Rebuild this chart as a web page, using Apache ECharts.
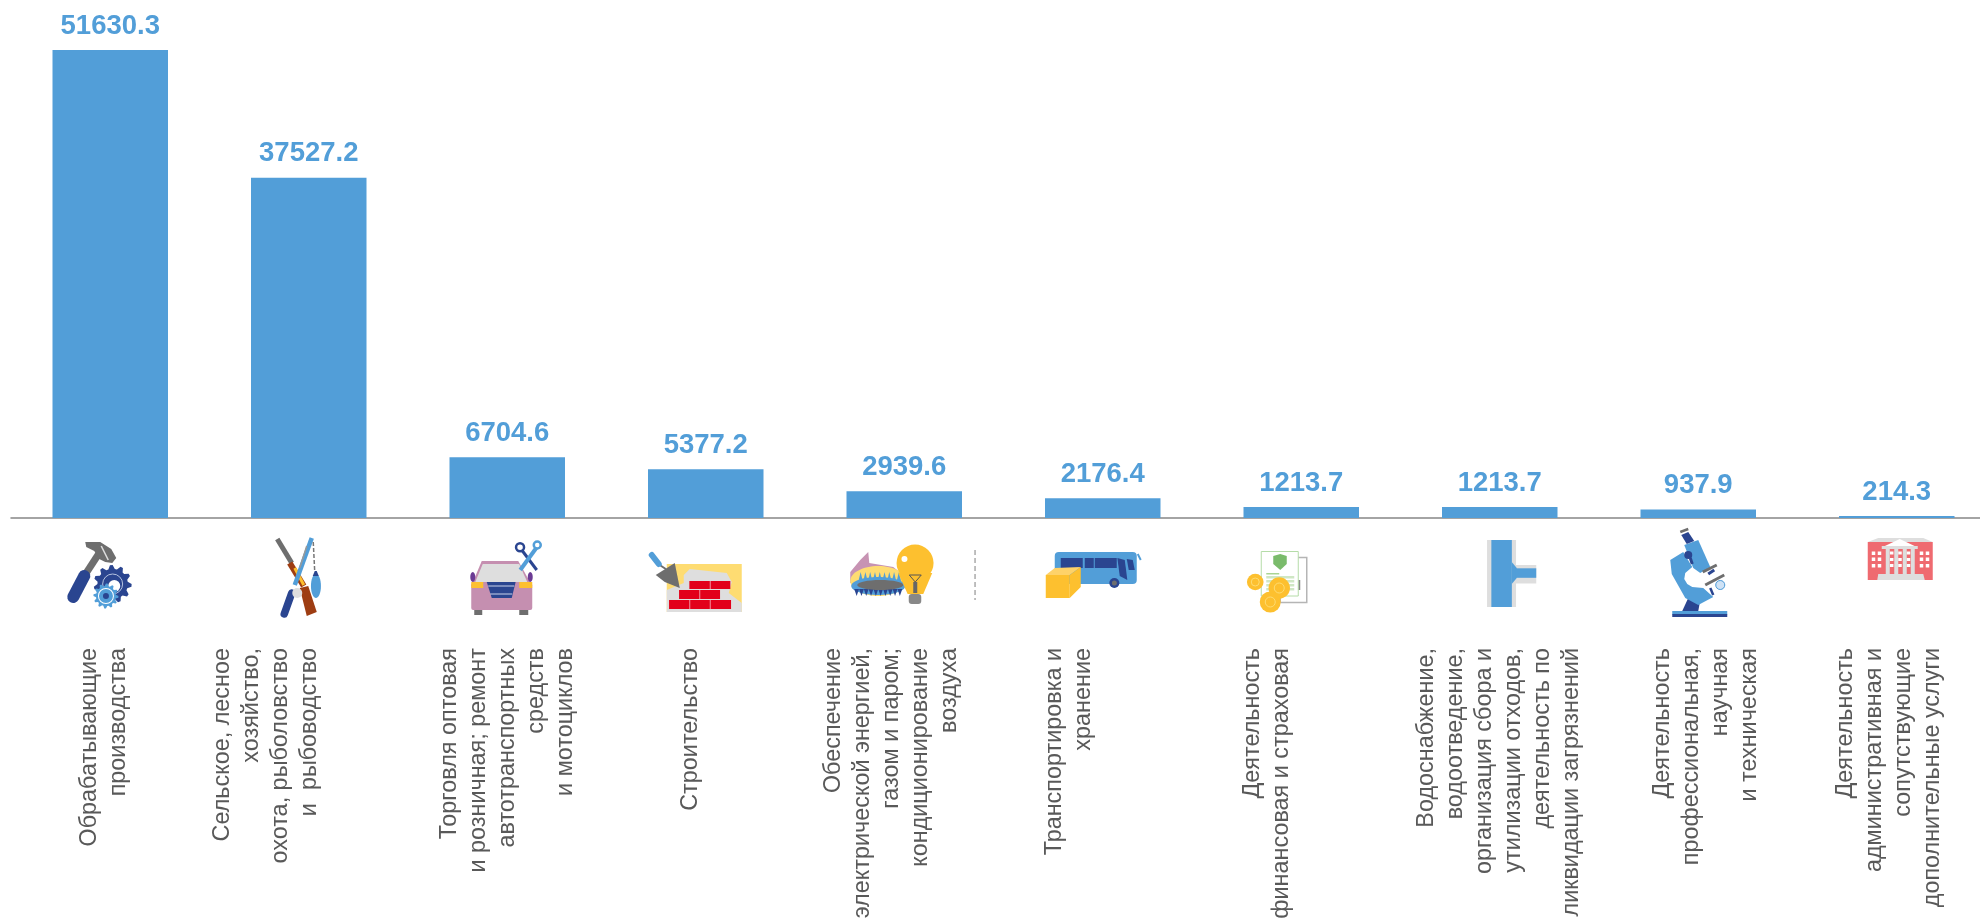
<!DOCTYPE html>
<html lang="ru">

<head>
    <meta charset="UTF-8">
    <title>Отрасли</title>
    <style>
        * {
            padding: 0;
            margin: 0;
        }
        html, body {
            overflow: hidden;
            background: #fff;
        }
    </style>
    <script src="https://cdn.jsdelivr.net/npm/echarts@6/dist/echarts.min.js"></script>
</head>

<body>
    <div id="main" style="width:1980px;height:919px;"></div>
    <script>
        // данные
        var categories = [
            "Обрабатывающие\nпроизводства",
            "Сельское, лесное\nхозяйство,\nохота, рыболовство\nи  рыбоводство",
            "Торговля оптовая\nи розничная; ремонт\nавтотранспортных\nсредств\nи мотоциклов",
            "Строительство",
            "Обеспечение\nэлектрической энергией,\nгазом и паром;\nкондиционирование\nвоздуха",
            "Транспортировка и\nхранение",
            "Деятельность\nфинансовая и страховая",
            "Водоснабжение,\nводоотведение,\nорганизация сбора и\nутилизации отходов,\nдеятельность по\nликвидации загрязнений",
            "Деятельность\nпрофессиональная,\nнаучная\nи техническая",
            "Деятельность\nадминистративная и\nсопутствующие\nдополнительные услуги"
        ];
        var values = [51630.3, 37527.2, 6704.6, 5377.2, 2939.6, 2176.4, 1213.7, 1213.7, 937.9, 214.3];

        // смещение блока подписи от центра столбца, px
        var labelShift = [-6, -43, 0, -15, -13, -34, -34, -1, 8, -8];

        var BLUE = "#529ed8", NAVY = "#2a4590", GRAY = "#6e6e6e", LIGHT = "#dedede", YELLOW = "#fdc02f",
            RED = "#e2001a", BRICK = "#ef6a70", WHITE = "#fff";

        // простые фигуры для значков
        function R(x, y, w, h, fill, r) {
            return { type: "rect", shape: { x: x, y: y, width: w, height: h, r: r || 0 }, style: { fill: fill } };
        }
        function C(cx, cy, r, fill) {
            return { type: "circle", shape: { cx: cx, cy: cy, r: r }, style: { fill: fill } };
        }
        function E(cx, cy, rx, ry, fill) {
            return { type: "ellipse", shape: { cx: cx, cy: cy, rx: rx, ry: ry }, style: { fill: fill } };
        }
        function P(points, fill) {
            return { type: "polygon", shape: { points: points }, style: { fill: fill } };
        }
        function L(x1, y1, x2, y2, w, color, cap, dash) {
            return {
                type: "line",
                shape: { x1: x1, y1: y1, x2: x2, y2: y2 },
                style: { stroke: color, lineWidth: w, lineCap: cap || "butt", lineDash: dash || null }
            };
        }
        function ring(cx, cy, r, w, color) {
            return { type: "circle", shape: { cx: cx, cy: cy, r: r }, style: { fill: "none", stroke: color, lineWidth: w } };
        }
        function gear(cx, cy, r, teeth, fill) {
            var pts = [];
            for (var i = 0; i < teeth * 4; i++) {
                var a = i / (teeth * 4) * Math.PI * 2;
                var rr = (i % 4 < 2) ? r : r * 0.8;
                pts.push([cx + rr * Math.cos(a), cy + rr * Math.sin(a)]);
            }
            return P(pts, fill);
        }
        // ряд язычков пламени у конфорки
        function flames(x0, x1, y, h, n, fill) {
            var out = [];
            var w = (x1 - x0) / n;
            for (var i = 0; i < n; i++) {
                out.push(P([[x0 + i * w, y], [x0 + (i + 0.5) * w, y + h], [x0 + (i + 1) * w, y]], fill));
            }
            return out;
        }

        // значки: координаты от центра столбца и оси
        var icons = [
            function () {
                return [
                    L(-26, 58, -11, 35, 7, GRAY),
                    P([[-25, 24], [-10, 24], [1, 31], [6, 40], [2, 45], [-5, 44], [-11, 41], [-16, 33], [-24, 29]], GRAY),
                    L(-9, 28, -2, 42, 1.5, LIGHT),
                    L(-37, 79, -26, 58, 12, NAVY, "round"),
                    gear(2.4, 66, 19, 11, NAVY),
                    ring(2.4, 66, 10, 1, "#b5c3e0"),
                    C(4, 68, 6, WHITE),
                    gear(-4.3, 78, 12.5, 12, BLUE),
                    C(-4.3, 78, 8, WHITE),
                    C(-4.3, 78, 7, BLUE),
                    C(-4.3, 78, 3, NAVY)
                ];
            },
            function () {
                return [
                    L(-31.5, 21, -17, 45, 5, GRAY),
                    L(-19, 45, -5, 68, 6, "#9e3d12"),
                    P([[-9, 70], [-0.5, 68], [8, 94], [-2, 98]], "#9e3d12"),
                    L(-14, 50, -5, 67, 3, YELLOW),
                    L(3, 20, -14, 67, 4.5, BLUE),
                    L(-2, 28, -9, 50, 1.5, "#999"),
                    L(4.5, 24, 6, 54, 1.5, "#777", "butt", [4, 2]),
                    L(-17, 75, -24.5, 96, 7.5, NAVY, "round"),
                    E(7.2, 68, 5, 12, BLUE),
                    P([[4, 58], [6, 53], [8, 53], [10, 58]], NAVY),
                    C(-11.5, 75, 5, LIGHT)
                ];
            },
            function () {
                return [
                    P([[-25.5, 43], [11, 43], [25, 68], [-36, 68]], "#c58fb0"),
                    R(-36, 65, 61, 27, "#c58fb0", 2),
                    P([[-32, 64], [-24.5, 46], [12, 46], [20, 64]], LIGHT),
                    R(-36, 64, 12, 6, YELLOW),
                    R(12, 64, 13, 6, YELLOW),
                    P([[-20.5, 64], [8.4, 64], [4.5, 80], [-15.5, 80]], NAVY),
                    L(-19, 68, 7, 68, 1, "#c9d3ea"),
                    L(-17, 76, 5, 76, 1, "#c9d3ea"),
                    R(-33, 92, 8, 5, GRAY),
                    R(12, 92, 9, 5, GRAY),
                    E(-34.5, 59, 2.5, 5, "#6b3a94"),
                    E(23, 59, 2.5, 5, "#6b3a94"),
                    L(14.5, 32, 29.5, 52, 3, NAVY),
                    ring(12.8, 29.3, 4, 2.5, NAVY),
                    L(29, 30, 13, 52, 4, BLUE),
                    ring(30, 27, 3.5, 2.5, BLUE)
                ];
            },
            function () {
                return [
                    R(-39, 46, 75, 48, "#fedc72"),
                    P([[-22, 57], [-16, 51], [21, 55], [26, 64], [23, 75], [36, 85], [36, 94], [-39, 94], [-39, 72], [-22, 65]], LIGHT),
                    R(-16.4, 63, 41, 8, RED),
                    R(-26.7, 72, 41, 9, RED),
                    R(-36.7, 82, 62, 9, RED),
                    R(4, 63, 1, 8, "#f2919c"),
                    R(-6.5, 72, 1, 9, "#f2919c"),
                    R(-16.5, 82, 1, 9, "#f2919c"),
                    R(4, 82, 1, 9, "#f2919c"),
                    P([[-50, 57], [-31, 45], [-26, 70], [-41, 64]], GRAY),
                    L(-46, 47, -40, 51, 2, GRAY),
                    L(-54, 37, -47, 46, 6, BLUE, "round")
                ];
            },
            function () {
                return [
                    P([[-54, 65], [-54, 54], [-44, 42], [-36, 34], [-35, 45], [-11, 49], [-1, 57], [-1, 67]], "#c793b3"),
                    E(-26, 63, 28, 15, "#fedc72"),
                    E(-26, 68, 27, 9, BLUE)
                ].concat(flames(-46, -3, 64, -10, 9, BLUE), flames(-50, -2, 71, 7, 10, NAVY), [
                    E(-24, 67, 23, 5, GRAY),
                    C(10.8, 45, 18.5, YELLOW),
                    P([[-6, 55], [28, 55], [19, 76], [3.4, 76]], YELLOW),
                    C(0.2, 41, 3, WHITE),
                    L(5, 57, 11, 64, 1, "#555"),
                    L(17, 57, 11, 64, 1, "#555"),
                    L(5, 57, 17, 57, 1, "#555"),
                    R(9, 64, 4, 11, "#666"),
                    R(4.5, 76, 12.5, 10, "#888", 3),
                    L(70.8, 32, 70.8, 82, 1.5, "#aaa", "butt", [5, 3])
                ]);
            },
            function () {
                return [
                    R(-48, 34, 82, 32, BLUE, 4),
                    L(35, 36, 38, 42, 2, BLUE),
                    R(-42, 40, 22, 10, NAVY),
                    R(-18, 40, 9, 10, NAVY),
                    R(-8, 40, 22, 10, NAVY),
                    P([[14.6, 40], [22, 42], [24.6, 62], [17, 58]], NAVY),
                    P([[24, 41], [30, 42], [32, 52], [26, 52]], NAVY),
                    C(11.6, 65, 5, NAVY),
                    C(11.6, 65, 2.5, GRAY),
                    P([[-57, 57], [-48, 50], [-22, 49], [-33, 57]], "#fed269"),
                    R(-57, 57, 24, 23, YELLOW),
                    P([[-33, 57], [-22, 49], [-22, 69], [-33, 80]], YELLOW)
                ];
            },
            function () {
                return [
                    { type: "rect", shape: { x: -21, y: 39.5, width: 26.5, height: 45 }, style: { fill: WHITE, stroke: "#b5b5b5", lineWidth: 1.5 } },
                    R(-4, 62, 3, 10, "#888"),
                    { type: "rect", shape: { x: -40, y: 33.5, width: 37, height: 44.5 }, style: { fill: WHITE, stroke: "#b5dca8", lineWidth: 1 } },
                    P([[-28, 38], [-21, 36], [-14.5, 38], [-14.5, 46], [-21, 52], [-28, 46]], "#7abb6b"),
                    R(-35, 55, 13, 1.5, "#a9d493"),
                    R(-35, 58, 28, 2.5, "#cfe7c4"),
                    R(-35, 62, 28, 2.5, "#cfe7c4"),
                    R(-35, 66, 28, 2.5, "#cfe7c4"),
                    R(-35, 70, 28, 2.5, "#cfe7c4"),
                    C(-46, 64, 8.3, YELLOW),
                    ring(-46, 64, 4, 1, "#fedc72"),
                    C(-22, 70, 10.7, YELLOW),
                    ring(-22, 70, 5, 1, "#fedc72"),
                    C(-31, 84, 10.5, YELLOW),
                    ring(-31, 84, 5, 1, "#fedc72")
                ];
            },
            function () {
                return [
                    R(-12.7, 22, 29, 67, LIGHT),
                    R(16, 47, 20.5, 18.5, LIGHT),
                    R(-8.4, 22, 20.5, 67, BLUE),
                    P([[12, 44], [17, 50], [17, 60], [12, 66]], BLUE),
                    R(16, 50.3, 20.5, 9.5, BLUE)
                ];
            },
            function () {
                return [
                    R(-26, 93, 55, 3.5, BLUE),
                    R(-26, 96, 55, 3, NAVY),
                    P([[-16, 93], [-10, 80], [2, 82], [0, 93]], NAVY),
                    P([[-28, 42], [-15, 34], [-6, 49], [-13, 55], [-14, 61], [-11, 66], [-6, 69], [5, 70], [15, 79], [0, 87], [-13, 80], [-26.5, 56]], BLUE),
                    P([[-14, 27], [0, 22], [12, 49], [2, 55], [-5, 50]], BLUE),
                    P([[-17, 17], [-10, 14], [-4, 23], [-11.5, 26]], NAVY),
                    L(-18, 14, -10, 11, 2.5, GRAY),
                    C(-10, 37, 4, NAVY),
                    L(-8, 40, -6, 46, 3, NAVY),
                    L(4.5, 54, 18.5, 47, 3, GRAY),
                    L(7, 67, 26, 57, 3, GRAY),
                    L(10, 56, 16, 52, 3, NAVY),
                    L(12, 70, 15, 77, 2.5, NAVY),
                    C(22, 67, 5, "#cfe2f5"),
                    ring(22, 67, 4.5, 1, BLUE)
                ];
            },
            function () {
                var out = [
                    P([[-18.5, 20], [26.5, 20], [36, 24], [-29, 24]], LIGHT),
                    R(-29, 24, 65, 38, BRICK),
                    P([[-14, 29], [3, 21], [20, 29]], WHITE),
                    R(-15, 28, 36, 3, LIGHT),
                    P([[-18.5, 56], [26.5, 56], [28, 62], [-19.5, 62]], LIGHT)
                ];
                [-11, -2.5, 6, 14].forEach(function (x) {
                    out.push(R(x, 31, 4, 25, LIGHT));
                });
                [-6.8, 1.5, 10].forEach(function (x) {
                    [33.5, 40, 46].forEach(function (y) {
                        out.push(R(x, y, 3.5, 3, WHITE));
                    });
                });
                [-25, -19, 23, 29].forEach(function (x) {
                    [33.5, 39.5, 46].forEach(function (y) {
                        out.push(R(x, y, 3.5, 3.5, WHITE));
                    });
                });
                return out;
            }
        ];

        var myChart = echarts.init(document.getElementById("main"));

        var option = {
            animation: false,
            grid: {
                left: 11,
                width: 1985,
                top: 50,
                height: 468,
                outerBoundsMode: "none"
            },
            xAxis: {
                type: "category",
                data: categories,
                axisLine: { lineStyle: { color: "#868686", width: 1.5 } },
                axisTick: { show: false },
                axisLabel: { show: false }
            },
            yAxis: {
                type: "value",
                min: 0,
                max: Math.max.apply(null, values),
                show: false
            },
            series: [{
                type: "bar",
                data: values,
                barWidth: 115.5,
                itemStyle: { color: BLUE },
                label: {
                    show: true,
                    position: "top",
                    distance: 10,
                    fontFamily: "Liberation Sans",
                    fontWeight: "bold",
                    fontSize: 27.5,
                    color: BLUE,
                    formatter: function (p) {
                        return p.value.toFixed(1);
                    }
                }
            }, {
                // подписи и значки под осью
                type: "custom",
                silent: true,
                data: categories.map(function (c, i) {
                    return [i, 0];
                }),
                renderItem: function (params, api) {
                    var i = api.value(0);
                    var pt = api.coord([i, 0]);
                    return {
                        type: "group",
                        children: [{
                            type: "group",
                            x: pt[0],
                            y: pt[1],
                            children: icons[i]()
                        }, {
                            type: "text",
                            x: pt[0] + labelShift[i],
                            y: 648,
                            rotation: Math.PI / 2,
                            style: {
                                text: categories[i],
                                align: "right",
                                verticalAlign: "middle",
                                fontFamily: "Liberation Sans",
                                fontSize: 23.4,
                                lineHeight: 29,
                                fill: "#595959"
                            }
                        }]
                    };
                }
            }]
        };

        myChart.setOption(option);
    </script>
</body>

</html>
